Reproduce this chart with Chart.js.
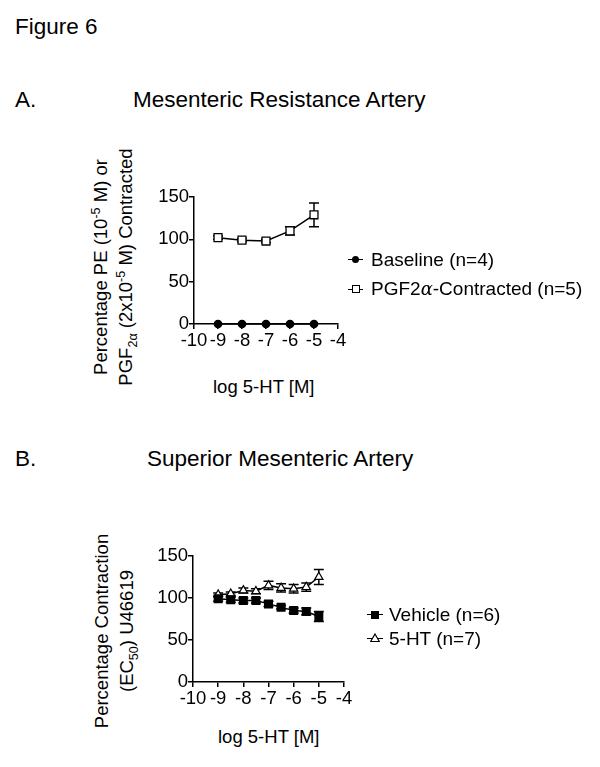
<!DOCTYPE html>
<html>
<head>
<meta charset="utf-8">
<script src="https://cdn.jsdelivr.net/npm/chart.js@4/dist/chart.umd.min.js"></script>
<style>
  html, body { margin:0; padding:0; background:#fff; }
  body { width:600px; height:767px; position:relative; overflow:hidden;
         font-family:"Liberation Sans", Arial, Helvetica, sans-serif; color:#000; }
  .t { position:absolute; white-space:nowrap; line-height:1; }
  .h { font-size:22.5px; line-height:22px; }
  .s { font-size:18.5px; line-height:18px; }
  .lt { font-size:19px; line-height:18px; }
  .ytitle { position:absolute; font-size:18.5px; line-height:25px; text-align:center;
            transform:rotate(-90deg); transform-origin:50% 50%; white-space:nowrap; }
  sub, sup { font-size:0.68em; line-height:0; }
  canvas { position:absolute; }
  .lg { position:absolute; }
  .lgline { position:absolute; height:0; border-top:1.5px solid #000; }
</style>
</head>
<body>
<div class="t h" style="left:15px; top:16px;">Figure 6</div>
<div class="t h" style="left:15px; top:89px;">A.</div>
<div class="t h" style="left:133px; top:89px;">Mesenteric Resistance Artery</div>
<div class="t h" style="left:15px; top:448px;">B.</div>
<div class="t h" style="left:147px; top:448px;">Superior Mesenteric Artery</div>

<div class="ytitle" style="left:-37px; top:242px; width:300px; height:50px;">Percentage PE (10<sup>-5</sup> M) or<br>PGF<sub>2α</sub> (2x10<sup>-5</sup> M) Contracted</div>
<div class="ytitle" style="left:-36px; top:606px; width:300px; height:50px;">Percentage Contraction<br>(EC<sub>50</sub>) U46619</div>

<div class="t s" style="left:213px; top:378px;">log 5-HT [M]</div>
<div class="t s" style="left:218px; top:728px;">log 5-HT [M]</div>

<canvas id="cA" width="220" height="180" style="left:140px; top:180px;"></canvas>
<canvas id="cB" width="230" height="180" style="left:140px; top:540px;"></canvas>

<!-- legends -->
<div class="lgline" style="left:348px; top:259px; width:15px;"></div>
<div class="lg" style="left:352px; top:256px; width:7px; height:7px; border-radius:50%; background:#000;"></div>
<div class="t lt" style="left:371px; top:251px;">Baseline (n=4)</div>
<div class="lgline" style="left:348px; top:289px; width:15px;"></div>
<div class="lg" style="left:352px; top:285px; width:6px; height:6px; border:1.2px solid #000; background:#fff;"></div>
<div class="t lt" style="left:371px; top:280px;">PGF2<span style="font-family:'DejaVu Serif',serif; font-style:italic; font-size:18px;">α</span>-Contracted (n=5)</div>

<div class="lgline" style="left:367px; top:614px; width:16px;"></div>
<div class="lg" style="left:371px; top:611px; width:8px; height:8px; background:#000;"></div>
<div class="t lt" style="left:389px; top:606px;">Vehicle (n=6)</div>
<div class="lgline" style="left:367px; top:638px; width:16px;"></div>
<svg class="lg" style="left:370px; top:633px;" width="10" height="10"><polygon points="5,1 9.3,8.5 0.7,8.5" fill="#fff" stroke="#000" stroke-width="1.2"/></svg>
<div class="t lt" style="left:389px; top:630px;">5-HT (n=7)</div>

<script>
// ---- data ----
const xTicks = [-10, -9, -8, -7, -6, -5, -4];
const yTicks = [0, 50, 100, 150];

const logA = [-9, -8, -7, -6, -5];
const baselineA = [0, 0, 0, 0, 0];
const baselineErrA = [0, 0, 0, 0, 0];
const pgfA = [102, 99, 98, 110, 129];
const pgfErrA = [2, 2, 2, 5, 14];

const logB = [-9, -8.5, -8, -7.5, -7, -6.5, -6, -5.5, -5];
const vehicleB = [99, 98, 97, 97, 93, 89, 85, 84, 78];
const vehicleErrB = [3, 3, 3, 3, 3, 2, 3, 4, 6];
const htB = [104, 105, 109, 108, 115, 112, 111, 113, 125];
const htErrB = [2, 2, 3, 3, 5, 5, 5, 5, 9];

// ---- helpers ----
const FONT = '"Liberation Sans", Arial, sans-serif';
function pts(xs, ys) { return xs.map((x, i) => ({ x: x, y: ys[i] })); }

const errorBars = {
  id: 'errorBars',
  beforeDatasetsDraw(chart) {
    const ctx = chart.ctx, xs = chart.scales.x, ys = chart.scales.y;
    chart.data.datasets.forEach((ds) => {
      if (!ds.err) return;
      ctx.save();
      ctx.strokeStyle = '#000';
      ctx.lineWidth = 1.5;
      ds.data.forEach((p, i) => {
        const e = ds.err[i];
        if (!e) return;
        const px = xs.getPixelForValue(p.x);
        const top = ys.getPixelForValue(p.y + e);
        const bot = ys.getPixelForValue(p.y - e);
        ctx.beginPath();
        ctx.moveTo(px, top); ctx.lineTo(px, bot);
        ctx.moveTo(px - 5, top); ctx.lineTo(px + 5, top);
        ctx.moveTo(px - 5, bot); ctx.lineTo(px + 5, bot);
        ctx.stroke();
      });
      ctx.restore();
    });
  }
};

function makeScales(yWidth, xHeight) {
  return {
    x: {
      type: 'linear', min: -10, max: -4,
      afterBuildTicks: (s) => { s.ticks = xTicks.map(v => ({ value: v })); },
      afterFit: (s) => { s.height = xHeight; },
      ticks: { autoSkip: false, maxRotation: 0, minRotation: 0, padding: 1,
               color: '#000', font: { family: FONT, size: 18.5 } },
      grid: { display: true, drawOnChartArea: false, drawTicks: true, tickLength: 5,
              color: '#000', lineWidth: 1.5 },
      border: { display: true, color: '#000', width: 1.5 }
    },
    y: {
      type: 'linear', min: 0, max: 150,
      afterBuildTicks: (s) => { s.ticks = yTicks.map(v => ({ value: v })); },
      afterFit: (s) => { s.width = yWidth; },
      ticks: { padding: 0, color: '#000', font: { family: FONT, size: 18.5 } },
      grid: { display: true, drawOnChartArea: false, drawTicks: true, tickLength: 5,
              color: '#000', lineWidth: 1.5 },
      border: { display: true, color: '#000', width: 1.5 }
    }
  };
}

const common = {
  responsive: false, animation: false,
  plugins: { legend: { display: false }, tooltip: { enabled: false } },
  elements: { line: { tension: 0 } }
};

new Chart(document.getElementById('cA'), {
  type: 'line',
  data: {
    datasets: [
      { label: 'Baseline (n=4)', data: pts(logA, baselineA), err: baselineErrA,
        borderColor: '#000', borderWidth: 1.5, pointStyle: 'circle', pointRadius: 3.6,
        pointBackgroundColor: '#000', pointBorderColor: '#000', clip: false },
      { label: 'PGF2α-Contracted (n=5)', data: pts(logA, pgfA), err: pgfErrA,
        borderColor: '#000', borderWidth: 1.5, pointStyle: 'rect', pointRadius: 5.6,
        pointBackgroundColor: '#fff', pointBorderColor: '#000', pointBorderWidth: 1.3, clip: false }
    ]
  },
  options: Object.assign({}, common, {
    layout: { padding: { top: 17, right: 22, left: 0, bottom: 0 } },
    scales: makeScales(54, 36)
  }),
  plugins: [errorBars]
});

new Chart(document.getElementById('cB'), {
  type: 'line',
  data: {
    datasets: [
      { label: 'Vehicle (n=6)', data: pts(logB, vehicleB), err: vehicleErrB,
        borderColor: '#000', borderWidth: 1.5, pointStyle: 'rect', pointRadius: 5.3,
        pointBackgroundColor: '#000', pointBorderColor: '#000', clip: false },
      { label: '5-HT (n=7)', data: pts(logB, htB), err: htErrB,
        borderColor: '#000', borderWidth: 1.5, pointStyle: 'triangle', pointRadius: 4.8,
        pointBackgroundColor: '#fff', pointBorderColor: '#000', pointBorderWidth: 1.2, clip: false }
    ]
  },
  options: Object.assign({}, common, {
    layout: { padding: { top: 16, right: 26, left: 0, bottom: 0 } },
    scales: makeScales(53, 38)
  }),
  plugins: [errorBars]
});
</script>
</body>
</html>
